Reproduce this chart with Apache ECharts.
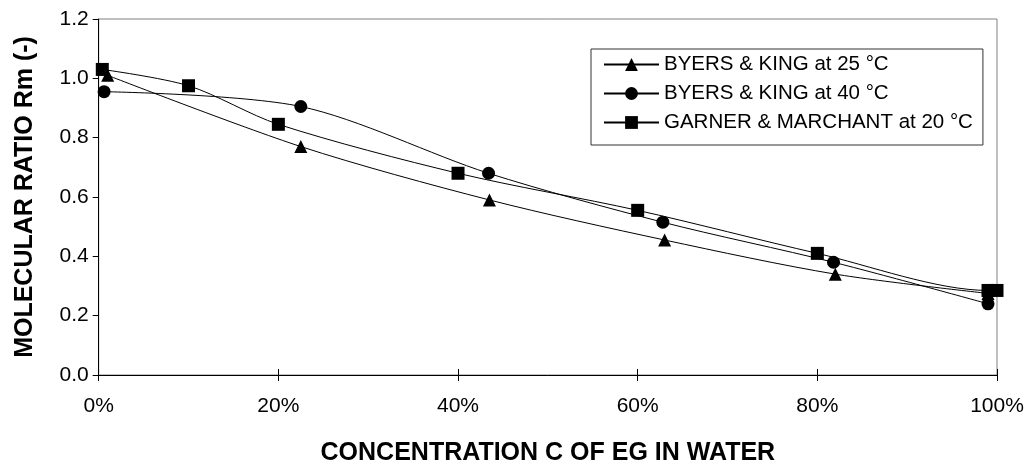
<!DOCTYPE html>
<html>
<head>
<meta charset="utf-8">
<style>
  html, body { margin: 0; padding: 0; background: #fff; }
  #chart { width: 1029px; height: 464px; }
</style>
<script src="https://cdn.jsdelivr.net/npm/echarts@6/dist/echarts.min.js"></script>
</head>
<body>
<div id="chart"></div>
<script>
// Concentration of EG in water (%) and molecular ratio Rm for each data set
const seriesNames = ['BYERS & KING at 25 °C', 'BYERS & KING at 40 °C', 'GARNER & MARCHANT at 20 °C'];

const byers25X = [1, 22.5, 43.5, 63, 82, 99];
const byers25Y = [1.01, 0.77, 0.59, 0.455, 0.34, 0.275];

const byers40X = [0.6, 22.5, 43.4, 62.8, 81.8, 99];
const byers40Y = [0.955, 0.905, 0.68, 0.515, 0.38, 0.24];

const garnerX = [0.4, 10, 20, 40, 60, 80, 99, 100];
const garnerY = [1.03, 0.975, 0.845, 0.68, 0.555, 0.41, 0.285, 0.285];

const xTicks = [0, 20, 40, 60, 80, 100];
const yTicks = [0, 0.2, 0.4, 0.6, 0.8, 1.0, 1.2];

const FONT = '"Liberation Sans", Arial, sans-serif';

function pairs(xs, ys) { return xs.map((x, i) => [x, ys[i]]); }

const chart = echarts.init(document.getElementById('chart'), null, { renderer: 'canvas' });

function lineSeries(name, symbol, xs, ys) {
  return {
    name: name,
    type: 'line',
    data: pairs(xs, ys),
    smooth: 0.3,
    symbol: symbol,
    symbolSize: 13,
    clip: false,
    showAllSymbol: true,
    lineStyle: { color: '#000', width: 1 },
    itemStyle: { color: '#000', borderWidth: 0 },
    emphasis: { disabled: true },
    animation: false
  };
}

const xMin = xTicks[0], xMax = xTicks[xTicks.length - 1];
const yMin = yTicks[0], yMax = yTicks[yTicks.length - 1];

chart.setOption({
  animation: false,
  backgroundColor: '#fff',
  grid: {
    left: 98.7, right: 32, top: 19, bottom: 89,
    containLabel: false, outerBoundsMode: 'none',
    show: true, borderColor: '#808080', borderWidth: 1, backgroundColor: 'transparent'
  },
  legend: {
    left: 591, top: 49,
    orient: 'vertical',
    itemWidth: 55, itemHeight: 16, itemGap: 8,
    padding: [5, 10, 12, 12],
    borderColor: '#333', borderWidth: 1, backgroundColor: '#fff',
    selectedMode: false,
    textStyle: { fontFamily: FONT, fontSize: 20.5, color: '#000', lineHeight: 20 },
    data: seriesNames
  },
  xAxis: [{
    type: 'value', min: xMin, max: xMax, interval: 20,
    name: 'CONCENTRATION C OF EG IN WATER',
    nameLocation: 'middle', nameGap: 66,
    nameTextStyle: { fontFamily: FONT, fontSize: 25, fontWeight: 'bold', color: '#000' },
    axisLine: { show: true, lineStyle: { color: '#000', width: 1 } },
    axisTick: { show: true, length: 6, lineStyle: { color: '#000' } },
    axisLabel: { fontFamily: FONT, fontSize: 21, color: '#000', margin: 21, formatter: '{value}%' },
    splitLine: { show: false }
  }, {
    type: 'value', min: xMin, max: xMax, interval: 20, position: 'bottom',
    axisLine: { show: false },
    axisTick: { show: true, inside: true, length: 6, lineStyle: { color: '#000' } },
    axisLabel: { show: false },
    splitLine: { show: false }
  }],
  yAxis: {
    type: 'value', min: yMin, max: yMax, interval: 0.2,
    name: 'MOLECULAR RATIO Rm (-)',
    nameLocation: 'middle', nameGap: 61,
    nameTextStyle: { fontFamily: FONT, fontSize: 25, fontWeight: 'bold', color: '#000' },
    axisLine: { show: true, lineStyle: { color: '#000', width: 1 } },
    axisTick: { show: true, length: 6, lineStyle: { color: '#000' } },
    axisLabel: { fontFamily: FONT, fontSize: 21, color: '#000', margin: 10, formatter: v => v.toFixed(1) },
    splitLine: { show: false }
  },
  series: [
    lineSeries(seriesNames[0], 'triangle', byers25X, byers25Y),
    lineSeries(seriesNames[1], 'circle', byers40X, byers40Y),
    lineSeries(seriesNames[2], 'rect', garnerX, garnerY)
  ]
});
</script>
</body>
</html>
